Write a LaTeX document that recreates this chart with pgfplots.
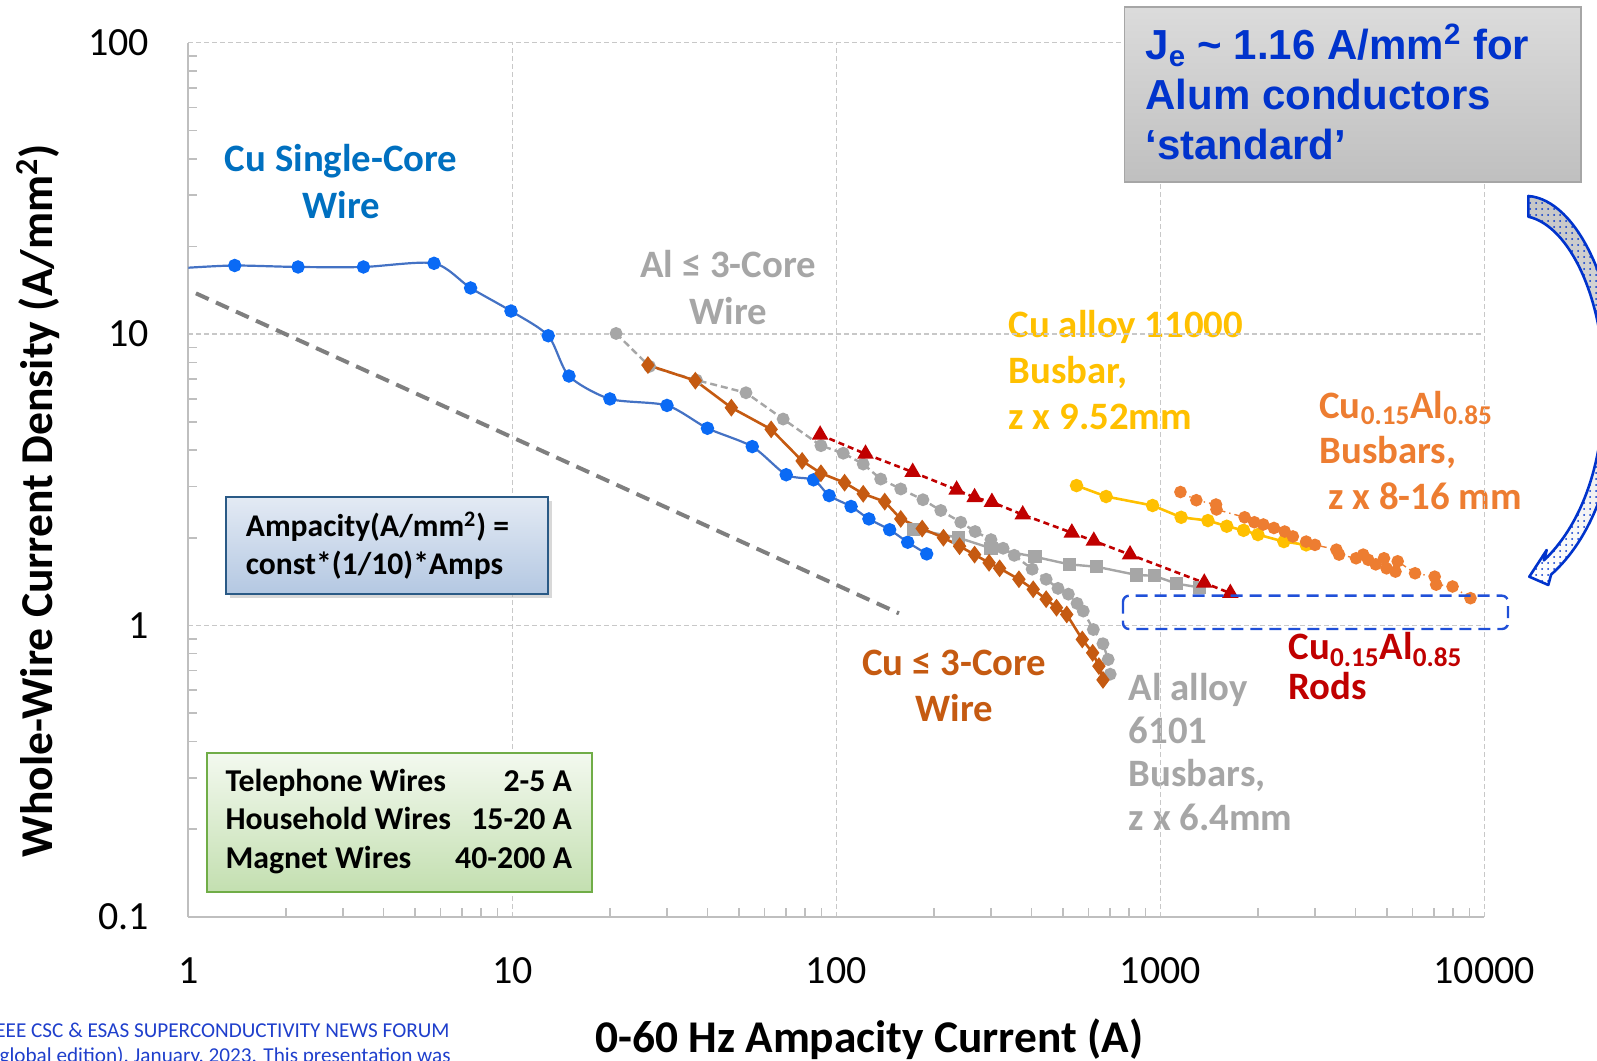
\documentclass[border=0pt]{standalone}
\usepackage{fontspec}
\setmainfont{Carlito}
\newfontfamily\arialfont{Liberation Sans}
\usepackage{pgfplots}
\pgfplotsset{compat=1.18}
\usetikzlibrary{patterns,shadows}

\definecolor{cuwire}{HTML}{4472C4}
\definecolor{cumark}{HTML}{0A6AF5}
\definecolor{cutext}{HTML}{0070C0}
\definecolor{algray}{HTML}{A6A6A6}
\definecolor{cuthree}{HTML}{C55A11}
\definecolor{rodred}{HTML}{C00000}
\definecolor{alloyy}{HTML}{FFC000}
\definecolor{busor}{HTML}{ED7D31}
\definecolor{refgray}{HTML}{7F7F7F}
\definecolor{gridgray}{HTML}{C8C8C8}
\definecolor{axgray}{HTML}{BFBFBF}
\definecolor{boxblue}{HTML}{0033CC}
\definecolor{rectblue}{HTML}{2050D8}
\definecolor{footblue}{HTML}{1F3FCC}
\definecolor{fboxtop}{HTML}{E3EAF4}
\definecolor{fboxbot}{HTML}{B4C8E2}
\definecolor{fboxline}{HTML}{2A5A86}
\definecolor{gboxtop}{HTML}{F3F9EF}
\definecolor{gboxbot}{HTML}{C3DFB0}
\definecolor{gboxline}{HTML}{70AD47}

\newcommand{\fs}[1]{\fontsize{#1}{#1}\selectfont}

\begin{document}
\begin{tikzpicture}
\useasboundingbox (0pt,0pt) rectangle (798.5pt,530.5pt);
\clip (0pt,0pt) rectangle (798.5pt,530.5pt);

% series labels, set first so that the grid runs over them
\begin{scope}[x=0.5pt,y=0.5pt,every node/.style={inner sep=0pt,font=\fs{19.4}\bfseries}]
\node[anchor=base,text=cutext] at (341.2,889) {Cu Single-Core};
\node[anchor=base,text=cutext] at (341.2,842) {Wire};
\node[anchor=base,text=algray] at (728.2,783) {Al ≤ 3-Core};
\node[anchor=base,text=algray] at (728.2,736) {Wire};
\node[anchor=base west,text=alloyy] at (1008.3,723) {Cu alloy 11000};
\node[anchor=base west,text=alloyy] at (1008.3,677) {Busbar,};
\node[anchor=base west,text=alloyy] at (1008.3,631) {z x 9.52mm};
\node[anchor=base west,text=busor] at (1319,642.5) {Cu\textsubscript{0.15}Al\textsubscript{0.85}};
\node[anchor=base west,text=busor] at (1319,597) {Busbars,};
\node[anchor=base west,text=busor] at (1328,551) {z x 8-16 mm};
\node[anchor=base,text=cuthree] at (954.3,385) {Cu ≤ 3-Core};
\node[anchor=base,text=cuthree] at (954.3,339) {Wire};
\node[anchor=base west,text=algray] at (1128.5,360.5) {Al alloy};
\node[anchor=base west,text=algray] at (1128.5,317.7) {6101};
\node[anchor=base west,text=algray] at (1128.5,274) {Busbars,};
\node[anchor=base west,text=algray] at (1128.5,230) {z x 6.4mm};
\node[anchor=base west,text=rodred] at (1288.4,401) {Cu\textsubscript{0.15}Al\textsubscript{0.85}};
\node[anchor=base west,text=rodred] at (1288.4,361.5) {Rods};
% axis titles
\node[anchor=base,font=\fs{22.7}\bfseries] at (869.3,9) {0-60 Hz Ampacity Current (A)};
\node[anchor=base,rotate=90,font=\fs{22.8}\bfseries] at (52.4,560.4) {Whole-Wire Current Density (A/mm\textsuperscript{2})};
% footer
\node[anchor=base east,font=\fs{10.6},text=footblue] at (450,23) {IEEE CSC \& ESAS SUPERCONDUCTIVITY NEWS FORUM};
\node[anchor=base east,font=\fs{10.6},text=footblue] at (451,-1.5) {(global edition), January, 2023. This presentation was};
\end{scope}

\begin{axis}[
  at={(94.2pt,72.15pt)}, anchor=south west,
  scale only axis, width=648pt, height=436.95pt,
  xmode=log, ymode=log,
  xmin=1, xmax=10000, ymin=0.1, ymax=100,
  axis lines=left, axis line style={-, draw=axgray, line width=1pt},
  xtick={1,10,100,1000,10000}, xticklabels={1,10,100,1000,10000},
  ytick={0.1,1,10,100}, yticklabels={0.1,1,10,100},
  minor xtick={2,3,4,5,6,7,8,9,20,30,40,50,60,70,80,90,200,300,400,500,600,700,800,900,2000,3000,4000,5000,6000,7000,8000,9000},
  minor ytick={0.2,0.3,0.4,0.5,0.6,0.7,0.8,0.9,2,3,4,5,6,7,8,9,20,30,40,50,60,70,80,90},
  grid=major,
  major grid style={gridgray, dash pattern=on 2.5pt off 1.5pt, line width=0.6pt},
  tick align=inside, major tick length=0pt, minor tick length=4.5pt,
  minor tick style={axgray, line width=0.8pt},
  xticklabel style={font=\fs{20}, anchor=center, inner sep=0pt, yshift=-27pt},
  yticklabel style={font=\fs{20}, anchor=east, inner sep=0pt, xshift=-19.4pt},
]
% reference trend, J proportional to I^(-1/2)
\addplot[refgray, line width=2pt, dash pattern=on 7pt off 4pt] coordinates {(1.055,13.8) (156,1.10)};

% Cu single-core wire
\addplot[cuwire, line width=1.1pt, smooth, tension=0.45, mark=*, mark size=2.8pt,
  mark options={fill=cumark, draw=cumark, solid},
  mark indices={2,3,4,5,6,7,8,9,10,11,12,13,14,15,16,17,18,19,20,21}] coordinates {
  (1,16.9) (1.39,17.2) (2.18,17.0) (3.47,17.0) (5.73,17.5) (7.43,14.4) (9.9,12.0)
  (12.9,9.87) (14.95,7.18) (20.0,5.99) (30.0,5.69) (40.0,4.75) (55.0,4.11) (70.0,3.29)
  (85.0,3.16) (95.0,2.79) (111,2.56) (126,2.32) (146,2.13) (166,1.93) (190,1.76)};

% Al <= 3-core wire
\addplot[algray, line width=1.2pt, dash pattern=on 3.5pt off 2pt, mark=*, mark size=2.6pt,
  mark options={fill=algray, draw=algray, solid}] coordinates {
  (20.9,10.05) (26.5,7.75) (37,6.95) (52.6,6.29) (68.5,5.11) (89.6,4.14) (105,3.90)
  (121,3.58) (137,3.18) (158,2.94) (185,2.70) (210,2.48) (242,2.26) (268,2.10)
  (300,1.97) (327,1.84) (354,1.74) (402,1.56) (444,1.44) (483,1.34) (520,1.28)
  (553,1.19) (578,1.12) (621,0.968) (665,0.865) (690,0.764) (700,0.68)};

% Al alloy 6101 busbars
\addplot[algray, line width=1.2pt, mark=square*, mark size=2.7pt,
  mark options={fill=algray, draw=algray}] coordinates {
  (173,2.14) (238,2.00) (300,1.84) (410,1.72) (523,1.62) (635,1.59) (844,1.49)
  (957,1.48) (1124,1.39) (1322,1.35)};

% Cu <= 3-core wire
\addplot[cuthree, line width=1.3pt, mark=diamond*, mark size=3.4pt,
  mark options={fill=cuthree, draw=cuthree}] coordinates {
  (26.2,7.83) (36.7,6.92) (47.4,5.59) (62.9,4.71) (78.4,3.67) (89.6,3.33) (106,3.09)
  (121,2.83) (141,2.66) (158,2.32) (184,2.15) (214,2.00) (240,1.87) (267,1.75)
  (296,1.64) (319,1.57) (366,1.44) (405,1.33) (444,1.23) (478,1.15) (514,1.09)
  (574,0.895) (618,0.805) (646,0.725) (665,0.65)};

% Cu0.15Al0.85 rods
\addplot[rodred, line width=1.3pt, dash pattern=on 3pt off 2pt, mark=triangle*, mark size=3.5pt,
  mark options={fill=rodred, draw=rodred, solid}] coordinates {
  (89.1,4.51) (123,3.88) (172,3.36) (235,2.92) (267,2.75) (302,2.65) (376,2.40)
  (533,2.08) (623,1.95) (806,1.75) (1366,1.40) (1644,1.29)};

% Cu alloy 11000 busbar
\addplot[alloyy, line width=1.3pt, mark=*, mark size=2.7pt,
  mark options={fill=alloyy, draw=alloyy}] coordinates {
  (551,3.02) (680,2.77) (946,2.58) (1159,2.35) (1402,2.29) (1603,2.19) (1806,2.12)
  (2000,2.05) (2405,1.94) (2818,1.89)};

% Cu0.15Al0.85 busbars
\addplot[busor, line width=0.7pt, dash dot, mark=*, mark size=2.8pt,
  mark options={fill=busor, draw=busor, solid}] coordinates {
  (1153,2.87) (1291,2.69) (1485,2.60) (1490,2.50) (1820,2.35) (1950,2.26) (2078,2.22)
  (2241,2.16) (2419,2.10) (2564,2.02) (2818,1.94) (3000,1.89) (3494,1.82) (3560,1.75)
  (4018,1.70) (4227,1.75) (4380,1.68) (4620,1.62) (4900,1.70) (4990,1.57) (5315,1.53)
  (5400,1.66) (6110,1.51) (7025,1.47) (7100,1.38) (7976,1.36) (9060,1.24)};
\end{axis}

\begin{scope}[x=0.5pt,y=0.5pt]
% formula box
\draw[draw=fboxline, line width=1pt, top color=fboxtop, bottom color=fboxbot,
  drop shadow={shadow xshift=2pt, shadow yshift=-2pt, fill=gray!60}]
  (226.1,564) rectangle (548,467.2);
\node[anchor=base west,inner sep=0pt,font=\fs{15.8}\bfseries] at (245.5,524.1) {Ampacity(A/mm\textsuperscript{2}) =};
\node[anchor=base west,inner sep=0pt,font=\fs{15.8}\bfseries] at (245.5,486.4) {const*(1/10)*Amps};

% wire classes box
\draw[draw=gboxline, line width=1pt, top color=gboxtop, bottom color=gboxbot]
  (206.8,308.3) rectangle (591.8,168.8);
\begin{scope}[every node/.style={inner sep=0pt,font=\fs{15.9}\bfseries}]
\node[anchor=base west] at (225.1,269.8) {Telephone Wires};
\node[anchor=base west] at (225.1,231.1) {Household Wires};
\node[anchor=base west] at (225.1,192.4) {Magnet Wires};
\node[anchor=base east] at (572.4,269.8) {2-5 A};
\node[anchor=base east] at (572.4,231.1) {15-20 A};
\node[anchor=base east] at (572.4,192.4) {40-200 A};
\end{scope}

% standard-current box
\draw[draw=algray, line width=0.8pt, top color=gray!28, bottom color=gray!50]
  (1124.4,1053.9) rectangle (1580.7,878.7);
\begin{scope}[every node/.style={inner sep=0pt,font=\arialfont\fs{21}\bfseries,text=boxblue}]
\node[anchor=base west] at (1145,1001) {J\textsubscript{e} \char"7E\ 1.16 A/mm\textsuperscript{2} for};
\node[anchor=base west] at (1145,951) {Alum conductors};
\node[anchor=base west] at (1145,901) {‘standard’};
\end{scope}

% dashed frame around the rod end points
\draw[rectblue, line width=1.2pt, dash pattern=on 6pt off 3.5pt, rounded corners=3pt]
  (1123,465.3) rectangle (1508,432);

% curved block arrow
\def\arrowpath{(1528.3,865) .. controls (1578,861) and (1618,771) .. (1618,676)
  .. controls (1618,586) and (1590,521) .. (1551.1,486.4) -- (1548.3,476) -- (1529.3,484.3)
  -- (1546.7,511) -- (1543.9,500.6) .. controls (1578,533) and (1604,591) .. (1604,676)
  .. controls (1604,761) and (1570,835) .. (1528.3,844.3) -- cycle}
\shade[top color=gray!45, bottom color=white] \arrowpath;
\fill[pattern=dots, pattern color=boxblue] \arrowpath;
\draw[boxblue, line width=1.3pt, line join=round] \arrowpath;
\end{scope}
\end{tikzpicture}
\end{document}
